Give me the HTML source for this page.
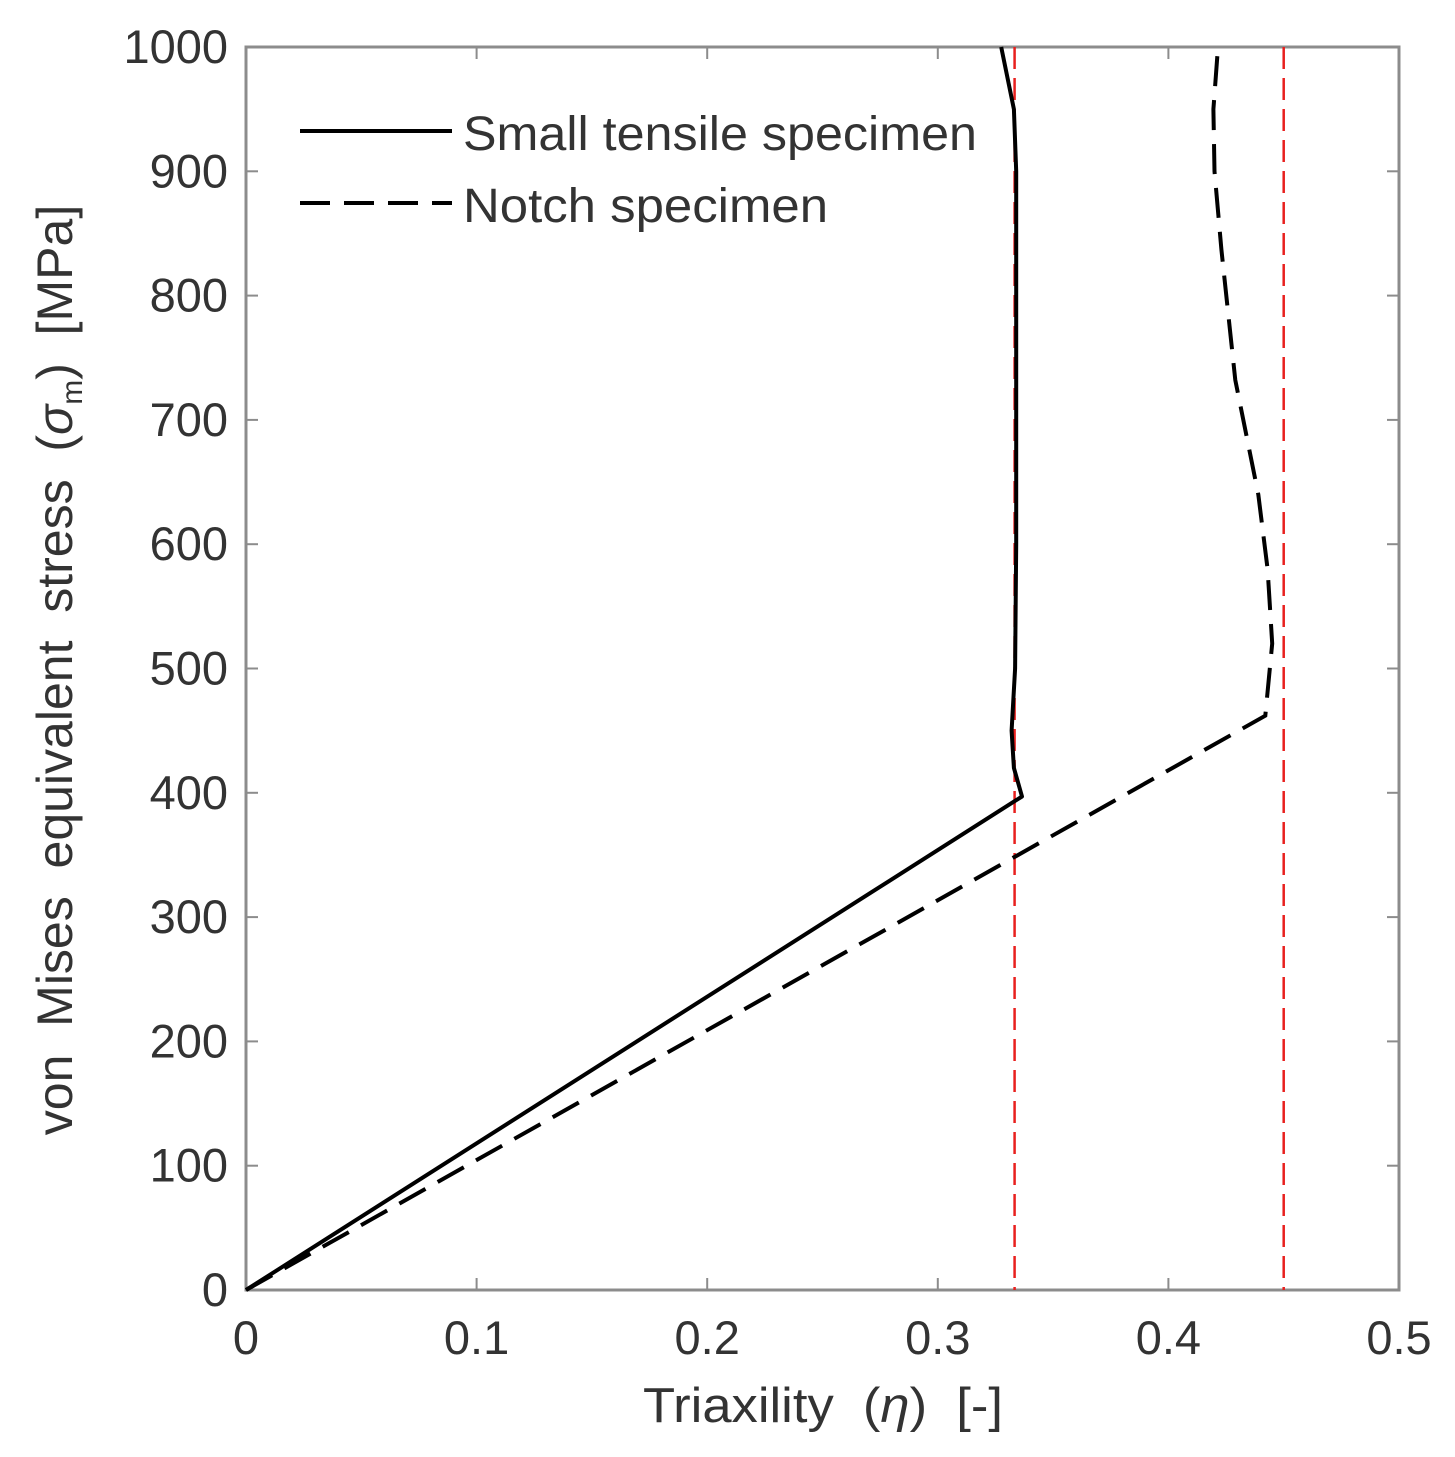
<!DOCTYPE html>
<html><head><meta charset="utf-8"><style>
body{margin:0;background:#fff;}
svg text{font-family:"Liberation Sans",sans-serif;fill:#333;white-space:pre;}
</style></head><body>
<svg id="chart" width="1455" height="1452" xmlns="http://www.w3.org/2000/svg"></svg>
<script>
const xTicks=[0,0.1,0.2,0.3,0.4,0.5];
const xTickLabels=["0","0.1","0.2","0.3","0.4","0.5"];
const yTicks=[0,100,200,300,400,500,600,700,800,900,1000];
const yTickLabels=["0","100","200","300","400","500","600","700","800","900","1000"];
const smallX=[0,0.3365,0.333,0.332,0.3335,0.334,0.334,0.334,0.334,0.333,0.3275];
const smallY=[0,397,420,450,500,600,700,800,900,950,1000];
const notchX=[0,0.442,0.445,0.443,0.439,0.429,0.423,0.42,0.4195,0.4215];
const notchY=[0,462,520,580,640,732,837,900,950,1000];
const refLines=[0.3333,0.45];
const L=246,R=1399,T=47,B=1290;
const sx=v=>L+(v-0)/(0.5)*(R-L);
const sy=v=>B-v/1000*(B-T);
const svg=document.getElementById('chart');
const NS="http://www.w3.org/2000/svg";
function mk(tag,attrs,parent){const e=document.createElementNS(NS,tag);for(const k in attrs)e.setAttribute(k,attrs[k]);(parent||svg).appendChild(e);return e;}
const frame=mk('rect',{x:L,y:T,width:R-L,height:B-T,fill:'none',stroke:'#8c8c8c','stroke-width':3});


xTicks.forEach((t,i)=>{
  const x=sx(t);
  const a=mk('line',{x1:x,x2:x,y1:B,y2:B-12,stroke:'#8c8c8c','stroke-width':2});
  
  
  mk('line',{x1:x,x2:x,y1:T,y2:T+12,stroke:'#8c8c8c','stroke-width':2});
  const tx=mk('text',{x:x,y:1354,'font-size':47,'text-anchor':'middle'});
  tx.textContent=xTickLabels[i];
  
  
});
yTicks.forEach((t,i)=>{
  const y=sy(t);
  const a=mk('line',{x1:L,x2:L+12,y1:y,y2:y,stroke:'#8c8c8c','stroke-width':2});
  
  
  mk('line',{x1:R,x2:R-12,y1:y,y2:y,stroke:'#8c8c8c','stroke-width':2});
  const tx=mk('text',{x:228,y:y+16,'font-size':47,'text-anchor':'end'});
  tx.textContent=yTickLabels[i];
  
  
});
refLines.forEach(r=>{
  const l=mk('line',{x1:sx(r),x2:sx(r),y1:T,y2:B,stroke:'#e8201e','stroke-width':2.5,'stroke-dasharray':'22,9'});
  
  
});
function path(xs,ys){return xs.map((v,i)=>(i?'L':'M')+sx(v).toFixed(1)+','+sy(ys[i]).toFixed(1)).join(' ');}
const s=mk('path',{d:path(smallX,smallY),fill:'none',stroke:'#000','stroke-width':4,'stroke-linejoin':'round'});


const n=mk('path',{d:path(notchX,notchY),fill:'none',stroke:'#000','stroke-width':4,'stroke-dasharray':'30,14'});


const g=mk('g',{});


mk('line',{x1:300,x2:452,y1:131,y2:131,stroke:'#000','stroke-width':4},g);
mk('line',{x1:300,x2:452,y1:203,y2:203,stroke:'#000','stroke-width':4,'stroke-dasharray':'30,14'},g);
let t1=mk('text',{x:463,y:150,'font-size':48,textLength:514,lengthAdjust:'spacingAndGlyphs'},g);t1.textContent='Small tensile specimen';


let t2=mk('text',{x:463,y:222,'font-size':48,textLength:365,lengthAdjust:'spacingAndGlyphs'},g);t2.textContent='Notch specimen';


const xt=mk('text',{x:823,y:1422,'font-size':49,'text-anchor':'middle',textLength:360,lengthAdjust:'spacingAndGlyphs'});
xt.innerHTML='Triaxility  (<tspan font-style="italic">η</tspan>)  [-]';


const yt=mk('text',{x:0,y:0,'font-size':50,'text-anchor':'middle',transform:'translate(72,670) rotate(-90)'});
yt.innerHTML='von  Mises  equivalent  stress  (<tspan font-style="italic">σ</tspan><tspan font-size="30" dy="10">m</tspan><tspan dy="-10">)  [MPa]</tspan>';


</script>
</body></html>
